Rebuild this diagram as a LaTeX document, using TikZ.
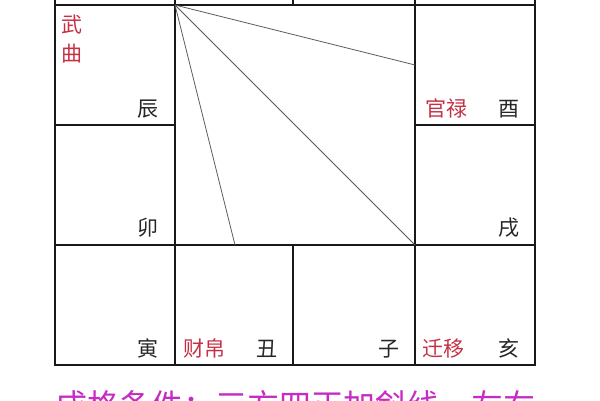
\documentclass[tikz,border=0pt]{standalone}
\usepackage{fontspec}
\newfontfamily\cjk{Noto Sans CJK SC}
\definecolor{palred}{RGB}{196,48,68}
\definecolor{notemag}{RGB}{196,44,196}
\definecolor{gridc}{RGB}{25,25,25}
\begin{document}
\begin{tikzpicture}[x=1pt,y=-1pt,
  gridline/.style={line width=1.6pt,draw=gridc,line cap=rect},
  diag/.style={line width=0.8pt,draw=black!65},
  branch/.style={font=\cjk\fontsize{21}{21}\selectfont,inner sep=0pt,anchor=base,text=black!85},
  palace/.style={font=\cjk\fontsize{21}{21}\selectfont,inner sep=0pt,anchor=base,text=palred},
  note/.style={font=\cjk\fontsize{32}{32}\selectfont,inner sep=0pt,anchor=base west,text=notemag}]
\useasboundingbox (0,0) rectangle (600,400);
% grid
\draw[gridline] (55,5) -- (535,5);
\draw[gridline] (55,125) -- (175,125);
\draw[gridline] (415,125) -- (535,125);
\draw[gridline] (55,245) -- (535,245);
\draw[gridline] (55,365) -- (535,365);
\draw[gridline] (55,-2) -- (55,365);
\draw[gridline] (175,-2) -- (175,365);
\draw[gridline] (293,-2) -- (293,5);
\draw[gridline] (293,245) -- (293,365);
\draw[gridline] (415,-2) -- (415,365);
\draw[gridline] (535,-2) -- (535,365);
% diagonals
\coordinate (ming) at (175,5);
\coordinate (pA) at (415,65);
\coordinate (pB) at (415,245);
\coordinate (pC) at (235,245);
\draw[diag] (ming) -- (pA);
\draw[diag] (ming) -- (pB);
\draw[diag] (ming) -- (pC);
% labels
\node[palace] (wu) at (72,32) {武};
\node[palace] (qu) at (72,61) {曲};
\node[branch] (chen) at (148,116.5) {辰};
\node[palace] (guanlu) at (446,116.5) {官禄};
\node[branch] (you) at (509,116.5) {酉};
\node[branch] (mao) at (148,235.5) {卯};
\node[branch] (xu) at (509,235.5) {戌};
\node[branch] (yin) at (148,356.5) {寅};
\node[palace] (caibo) at (204,356.5) {财帛};
\node[branch] (chou) at (267,356.5) {丑};
\node[branch] (zi) at (389,356.5) {子};
\node[palace] (qianyi) at (443,356.5) {迁移};
\node[branch] (hai) at (509,356.5) {亥};
\node[note] (cond) at (55,417) {成格条件：三方四正加斜线，左右};
\end{tikzpicture}
\end{document}
